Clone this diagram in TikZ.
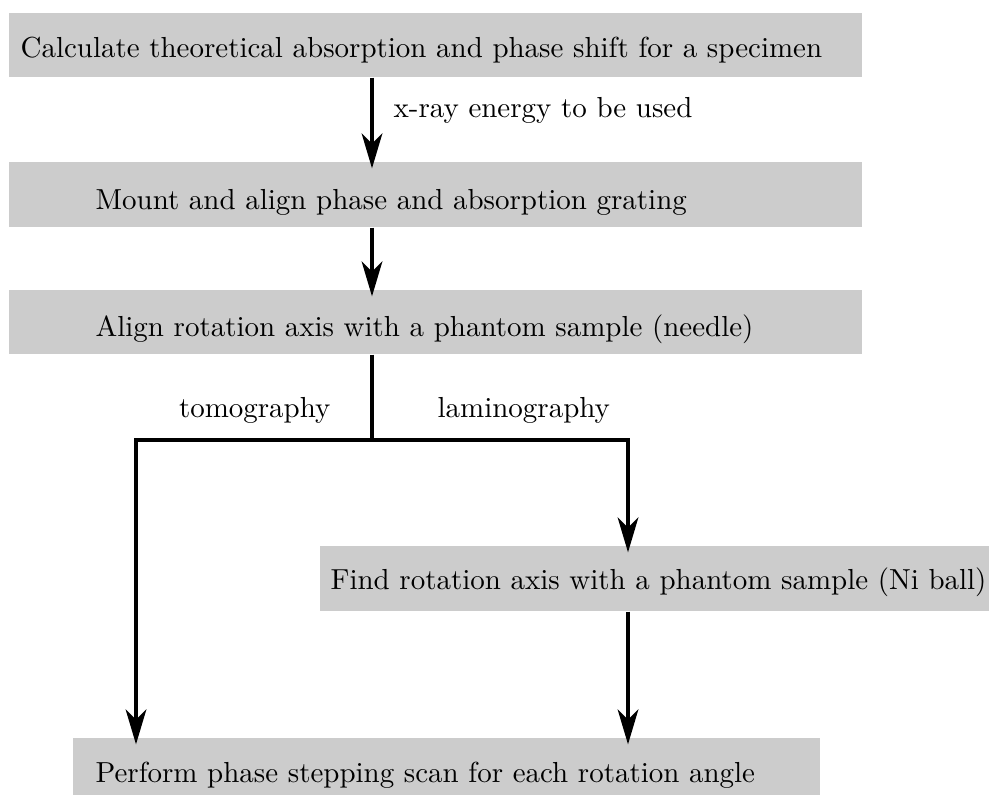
\documentclass[tikz,border=0pt]{standalone}
\usetikzlibrary{arrows.meta,fit}
\definecolor{boxgray}{RGB}{204,204,204}
\begin{document}
\begin{tikzpicture}[x=0.33pt,y=-0.33pt,
  box/.style={fill=boxgray, draw=none, inner sep=0pt},
  lbl/.style={inner sep=0pt, font=\fontsize{9.56}{11.5}\selectfont},
  conn/.style={line width=1.3pt},
  arr/.style={conn, -{Stealth[length=11.5pt,width=6.8pt,inset=3.3pt]}, shorten >=-2.3pt}]
\useasboundingbox (0,0) rectangle (989,795);
% boxes
\node[box, fit={(9,13) (862,77)}] (b1) {};
\node[box, fit={(9,162) (862,227)}] (b2) {};
\node[box, fit={(9,290) (862,354)}] (b3) {};
\node[box, fit={(320,546) (989,611)}] (b4) {};
\node[box, fit={(73,738) (820,795)}] (b5) {};
% texts
\node[lbl, anchor=base west] (t1) at (20,58) {Calculate theoretical absorption and phase shift for a specimen};
\node[lbl, anchor=base west] (t2) at (95,209) {Mount and align phase and absorption grating};
\node[lbl, anchor=base west] (t3) at (95,336) {Align rotation axis with a phantom sample (needle)};
\node[lbl, anchor=base west] (t4) at (330,589) {Find rotation axis with a phantom sample (Ni ball)};
\node[lbl, anchor=base west] (t5) at (95,782) {Perform phase stepping scan for each rotation angle};
% labels
\node[lbl, anchor=base west] (l1) at (393,118) {x-ray energy to be used};
\node[lbl, anchor=base east] (l2) at (331,417) {tomography};
\node[lbl, anchor=base west] (l3) at (437,417) {laminography};
% helper coordinates
\coordinate (ax) at (372,0);
\coordinate (lx) at (136,0);
\coordinate (rx) at (628,0);
\coordinate (split) at (372,440);
% connectors
\draw[arr] (ax |- b1.south) -- (ax |- b2.north);
\draw[arr] (ax |- b2.south) -- (ax |- b3.north);
\draw[conn] (ax |- b3.south) -- (split);
\draw[arr] (split) -| (lx |- b5.north);
\draw[arr] (split) -| (rx |- b4.north);
\draw[arr] (rx |- b4.south) -- (rx |- b5.north);
\end{tikzpicture}
\end{document}
